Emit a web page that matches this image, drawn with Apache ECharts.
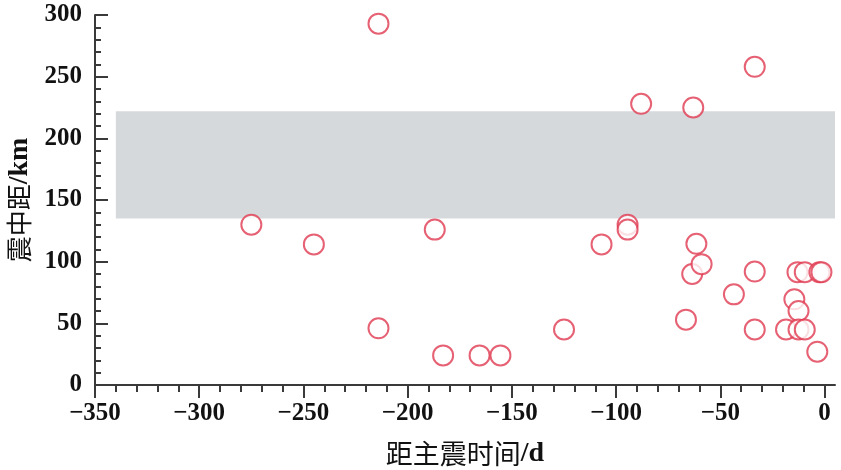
<!DOCTYPE html>
<html><head><meta charset="utf-8">
<script src="https://cdn.jsdelivr.net/npm/echarts@6/dist/echarts.min.js"></script>
<style>html,body{margin:0;padding:0;background:#fff}#c{width:841px;height:470px}</style>
</head><body><div id="c"></div>
<script>
// data (days before main shock, epicentral distance km)
const days = [-275, -245, -214, -214, -187, -183, -165.5, -155.5, -125, -107, -94.5, -94.5, -88, -66.5, -63, -63.5, -61.5, -59, -43.5, -33.5, -33.5, -33.5, -18.5, -14.5, -12.5, -12.5, -9.5, -13, -9.5, -2.5, -1.5, -3.5];
const dist = [130, 114, 293, 46, 126, 24, 24, 24, 45, 114, 130, 126, 228, 53, 225, 90, 114.5, 98, 73.5, 258, 92, 45, 45, 69.5, 60, 45, 45, 91.5, 91.5, 91.5, 91.5, 27];
const band = {x0: -340, x1: 5, y0: 135, y1: 222};
const xMajor = [-350, -300, -250, -200, -150, -100, -50, 0];
const xMinor = [];
for (let v = -350; v <= 0; v += 10) if (v % 50 !== 0) xMinor.push(v);

const points = days.map((d, i) => [d, dist[i]]);
const serif = "'Liberation Serif', 'Noto Sans CJK SC', serif";
const cjk = "'Noto Sans CJK SC', serif";
const axisColor = '#3a3a3a';

const chart = echarts.init(document.getElementById('c'));
chart.setOption({
  animation: false,
  grid: {left: 95, right: 6, top: 15, bottom: 85, containLabel: false, outerBoundsMode: 'none'},
  xAxis: [{
    type: 'value', min: -350, max: 5, interval: 50,
    name: '{c|距主震时间}{l|/d}', nameLocation: 'middle', nameGap: 55,
    nameTextStyle: {rich: {
      c: {fontFamily: cjk, fontSize: 27, color: '#111'},
      l: {fontFamily: serif, fontSize: 28, fontWeight: 'bold', color: '#111'}
    }},
    axisLine: {onZero: false, lineStyle: {color: axisColor, width: 2}},
    axisTick: {length: 13, lineStyle: {color: axisColor, width: 2}, customValues: xMajor},
    axisLabel: {customValues: xMajor, margin: 16, fontFamily: serif, fontSize: 25, fontWeight: 'bold', color: '#111',
      formatter: v => (v < 0 ? '\u2212' + Math.abs(v) : String(v))},
    splitLine: {show: false}
  }, {
    type: 'value', min: -350, max: 5, position: 'bottom',
    axisLine: {show: false, onZero: false},
    axisTick: {length: 7, lineStyle: {color: axisColor, width: 2}, customValues: xMinor},
    axisLabel: {show: false},
    splitLine: {show: false}
  }],
  yAxis: {
    type: 'value', min: 0, max: 300, interval: 50,
    name: '{c|震中距}{l|/km}', nameLocation: 'middle', nameGap: 61,
    nameTextStyle: {rich: {
      c: {fontFamily: cjk, fontSize: 26, color: '#111'},
      l: {fontFamily: serif, fontSize: 28, fontWeight: 'bold', color: '#111'}
    }},
    axisLine: {show: true, onZero: false, lineStyle: {color: axisColor, width: 2}},
    axisTick: {show: true, inside: true, length: 13, lineStyle: {color: axisColor, width: 2}},
    minorTick: {show: true, splitNumber: 5, length: 6, lineStyle: {color: axisColor, width: 2}},
    axisLabel: {margin: 13, fontFamily: serif, fontSize: 25, fontWeight: 'bold', color: '#111'},
    splitLine: {show: false}
  },
  series: [{
    type: 'scatter',
    data: points,
    symbol: 'emptyCircle',
    symbolSize: 20,
    itemStyle: {color: '#e03a50', borderColor: '#e03a50', borderWidth: 1.8},
    markArea: {
      silent: true,
      itemStyle: {color: '#d6d9dc'},
      data: [[{coord: [band.x0, band.y0]}, {coord: [band.x1, band.y1]}]]
    },
    z: 3
  }]
});
</script></body></html>
